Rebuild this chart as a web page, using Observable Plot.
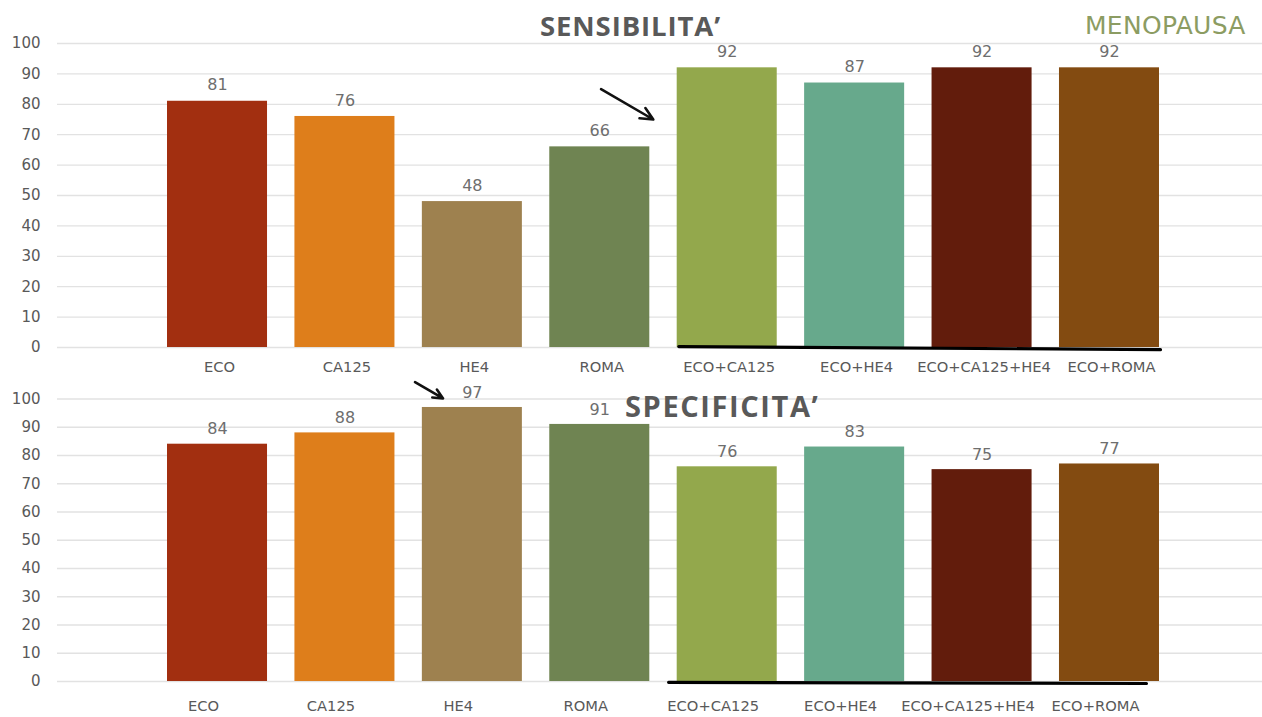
<!DOCTYPE html>
<html>
<head>
<meta charset="utf-8">
<script src="https://cdn.jsdelivr.net/npm/d3@7"></script>
<script src="https://cdn.jsdelivr.net/npm/@observablehq/plot@0.6"></script>
<style>
  html, body { margin: 0; padding: 0; background: #fff; }
  #wrap { position: relative; width: 1262px; height: 717px; overflow: hidden; }
  .title { position: absolute; font-family: "Open Sans", sans-serif; font-weight: 700; color: #595959; white-space: nowrap; line-height: 1; }
  .tag { position: absolute; font-family: "DejaVu Sans", sans-serif; color: #8c9c62; white-space: nowrap; line-height: 1; letter-spacing: 0.3px; }
  svg { overflow: visible; }
</style>
</head>
<body>
<div id="wrap">
  <div id="top"></div>
  <div id="bottom"></div>
  <div class="title" id="t1" style="left:540px; top:12px; font-size:27.5px; letter-spacing:0.9px;">SENSIBILITA’</div>
  <div class="title" id="t2" style="left:625px; top:391px; font-size:29px; letter-spacing:1.6px;">SPECIFICITA’</div>
  <div class="tag" id="t3" style="left:1085px; top:13px; font-size:25px;">MENOPAUSA</div>
</div>
<script>
// ---- data ----
const categories = ["ECO", "CA125", "HE4", "ROMA", "ECO+CA125", "ECO+HE4", "ECO+CA125+HE4", "ECO+ROMA"];
const sensibilita = [81, 76, 48, 66, 92, 87, 92, 92];
const specificita = [84, 88, 97, 91, 76, 83, 75, 77];
const barColors = ["#a22f10", "#de7e1b", "#9e814f", "#6f8452", "#93a84c", "#67a98c", "#621c0c", "#834b11"];
const yTicks = [0, 10, 20, 30, 40, 50, 60, 70, 80, 90, 100];

// hand-drawn annotations (x in category-position units, y in value units)
const topArrow = [{x1: 4.01, y1: 85, x2: 4.42, y2: 75}];
const bottomArrow = [{x1: 2.55, y1: 106, x2: 2.77, y2: 100.2}];
const topUnderline = [{x: 4.62, y: 0.3}, {x: 8.4, y: -0.7}];
const bottomUnderline = [{x: 4.54, y: -0.3}, {x: 8.29, y: -0.7}];

const positions = categories.map((c, i) => i + 1);

function panel(values, opts) {
  const data = categories.map((c, i) => ({cat: c, pos: positions[i], value: values[i], color: barColors[i]}));
  return Plot.plot({
    width: 1262,
    height: opts.height,
    marginTop: opts.marginTop,
    marginBottom: opts.marginBottom,
    marginLeft: 57,
    marginRight: 0,
    style: {fontFamily: "DejaVu Sans, sans-serif", fontSize: "15px", color: "#595959", background: "transparent", overflow: "visible"},
    x: {domain: [0.5, 8.5], range: [153.3, 1172.7]},
    y: {domain: [0, 100]},
    color: {type: "identity"},
    marks: [
      Plot.gridY(yTicks, {stroke: "#e2e2e2", strokeOpacity: 1, strokeWidth: 1.3}),
      Plot.axisY(yTicks, {tickSize: 0, tickPadding: 17, label: null, fill: "#595959", fontSize: 15}),
      Plot.axisX(positions, {tickSize: 0, tickPadding: opts.xPad, dx: opts.xdx, label: null,
        tickFormat: (d) => categories[d - 1], fill: "#595959", fontSize: 14.7}),
      Plot.rectY(data, {x1: d => d.pos - 0.5, x2: d => d.pos + 0.5, y: "value", fill: "color", insetLeft: 13.7, insetRight: 13.7}),
      Plot.text(data, {x: "pos", y: "value", text: d => String(d.value), dy: opts.labelDy, fill: "#6e6e6e", fontSize: 16}),
      Plot.line(opts.underline, {x: "x", y: "y", stroke: "#000", strokeWidth: 3.2}),
      Plot.arrow(opts.arrow, {x1: "x1", y1: "y1", x2: "x2", y2: "y2", stroke: "#111", strokeWidth: 2.6, headLength: 8, headAngle: 50})
    ]
  });
}

document.getElementById("top").appendChild(panel(sensibilita, {
  height: 385, marginTop: 43, marginBottom: 38, xPad: 14, xdx: 2, labelDy: -16,
  underline: topUnderline, arrow: topArrow
}));
document.getElementById("bottom").appendChild(panel(specificita, {
  height: 332, marginTop: 13.5, marginBottom: 36, xPad: 19, xdx: -14, labelDy: -15,
  underline: bottomUnderline, arrow: bottomArrow
}));
</script>
</body>
</html>
